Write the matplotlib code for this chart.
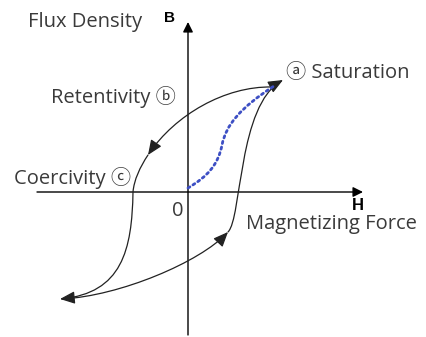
import matplotlib.pyplot as plt
from matplotlib.path import Path
from matplotlib.patches import FancyArrowPatch

plt.rcParams['font.family'] = ['Open Sans', 'Noto Sans CJK KR', 'DejaVu Sans']

# diagram coordinates (pixel grid of the original picture, y going down)
origin = (188, 192)
b_axis = [(188, 335), (188, 22)]
h_axis = [(37, 192), (363, 192)]

# hysteresis loop, cubic bezier pieces (start, ctrl1, ctrl2, end), each ends in an arrow
loop_down_top = [(272, 87), (225, 86), (175, 115), (148, 155)]
loop_down_left = [(148, 155), (140, 167), (134, 180), (133, 192),
                  (132, 250), (122, 293), (60, 299)]
loop_up_bottom = [(62, 299), (120, 296), (200, 262), (228, 232)]
loop_up_right = [(228, 232), (242, 218), (238, 105), (283, 80)]

# initial magnetisation curve (dotted)
virgin_curve = [(188, 188), (208, 176), (218, 165), (222, 145),
                (226, 125), (240, 108), (274, 86)]

labels = {
    'Flux Density': (28, 22),
    'Retentivity \u24d1': (51, 97),
    'Coercivity \u24d2': (14, 178),
    '\u24d0 Saturation': (286, 73),
    'Magnetizing Force': (246, 224),
}

fig = plt.figure(figsize=(4.27, 3.37), dpi=100)
ax = fig.add_axes([0, 0, 1, 1])
ax.set_xlim(0, 427)
ax.set_ylim(337, 0)
ax.axis('off')


def bez(pts):
    codes = [Path.MOVETO] + [Path.CURVE4] * (len(pts) - 1)
    return Path(pts, codes)


# axes with arrows
for seg in (b_axis, h_axis):
    ax.add_patch(FancyArrowPatch(seg[0], seg[1], arrowstyle='-|>,head_length=0.6,head_width=0.3',
                                 mutation_scale=10, lw=1.0, color='black', shrinkA=0, shrinkB=0))

# loop branches
for pts in (loop_down_top, loop_down_left, loop_up_bottom, loop_up_right):
    ax.add_patch(FancyArrowPatch(path=bez(pts), arrowstyle='-|>,head_length=0.9,head_width=0.38',
                                 mutation_scale=10, lw=0.9, color='#222222'))

ax.add_patch(FancyArrowPatch(path=bez(virgin_curve), arrowstyle='-', lw=2.0,
                             color='#3d4fc4', linestyle=(0, (0.8, 1.3))))

for txt, (x, y) in labels.items():
    ax.text(x, y, txt, fontsize=14.5, color='#3a3a3a', ha='left', va='center')

ax.text(169.5, 18, 'B', fontsize=11, fontweight='bold', ha='center', va='center',
        family='Liberation Sans')
ax.text(358, 206, 'H', fontsize=12, fontweight='bold', ha='center', va='center',
        family='Liberation Sans')
ax.text(178, 211, '0', fontsize=14.5, color='#3a3a3a', ha='center', va='center')

fig.savefig('out.png', dpi=100)
